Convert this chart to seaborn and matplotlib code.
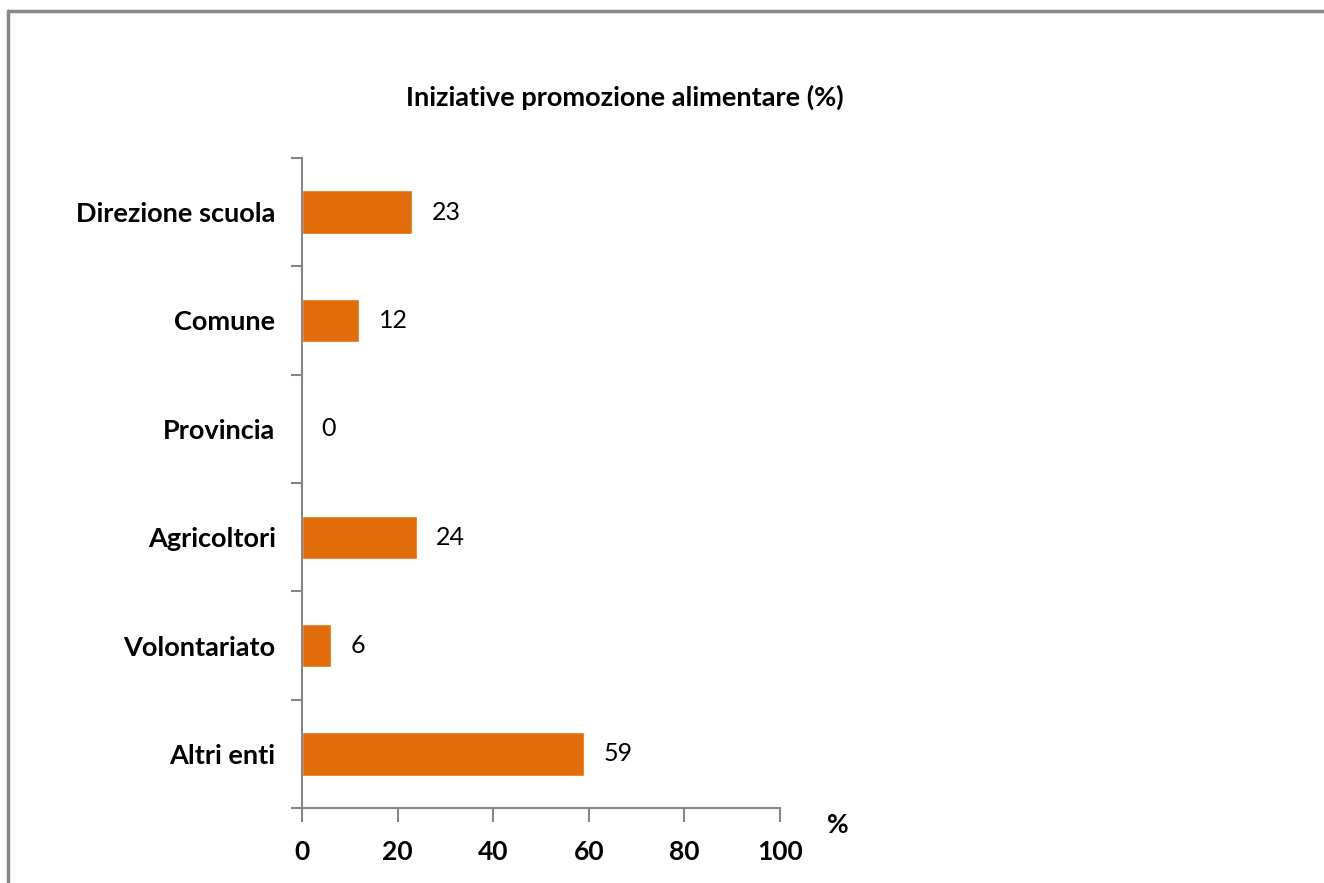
import matplotlib
matplotlib.use("Agg")
import matplotlib.pyplot as plt
from matplotlib.lines import Line2D
import seaborn as sns

categories = ["Direzione scuola", "Comune", "Provincia", "Agricoltori", "Volontariato", "Altri enti"]
values = [23, 12, 0, 24, 6, 59]
x_ticks = [0, 20, 40, 60, 80, 100]

sns.set_style("white")
plt.rcParams['font.family'] = ['Lato', 'DejaVu Sans']
plt.rcParams['text.color'] = 'black'
plt.rcParams['xtick.color'] = 'black'
plt.rcParams['ytick.color'] = 'black'

bar_color = "#E36C0A"
spine_color = "#868686"

fig = plt.figure(figsize=(13.24, 8.83), dpi=100)
ax = fig.add_axes([0.2281, 0.0849, 0.3610, 0.7362])

sns.barplot(x=values, y=categories, color=bar_color, width=0.4,
            saturation=1, orient="h", ax=ax)

# value labels
for cont in ax.containers:
    ax.bar_label(cont, padding=14, fontsize=18, color="black")

ax.set_xlim(0, 100)
ax.set_ylim(len(categories) - 0.5, -0.5)
ax.set_xticks(x_ticks)
ax.set_xticklabels([str(t) for t in x_ticks], fontsize=19, fontweight="bold")
ax.set_yticks(range(len(categories)))
ax.set_yticklabels(categories, fontsize=19.5, fontweight="bold")
ax.set_yticks([i - 0.5 for i in range(len(categories) + 1)], minor=True)
ax.tick_params(axis="y", which="major", length=0, pad=19, labelcolor="black")
ax.tick_params(axis="y", which="minor", length=8, width=1.5, color=spine_color, direction="out", left=True)
ax.tick_params(axis="x", length=10, width=1.5, color=spine_color, direction="out", pad=13,
               bottom=True, labelcolor="black")

for side in ["top", "right"]:
    ax.spines[side].set_visible(False)
for side in ["left", "bottom"]:
    ax.spines[side].set_color(spine_color)
    ax.spines[side].set_linewidth(1.5)
ax.set_xlabel("")
ax.set_ylabel("")

fig.text(625 / 1324, 1 - 97 / 883, "Iniziative promozione alimentare (%)",
         ha="center", va="center", fontsize=19.5, fontweight="bold")
fig.text(838 / 1324, 1 - 825 / 883, "%", ha="center", va="center",
         fontsize=19, fontweight="bold")

# outer chart frame (top and left edges)
fig.add_artist(Line2D([8 / 1324, 8 / 1324], [0, 1 - 11 / 883],
                      transform=fig.transFigure, color="#878787", lw=2.5))
fig.add_artist(Line2D([8 / 1324, 1], [1 - 11 / 883, 1 - 11 / 883],
                      transform=fig.transFigure, color="#878787", lw=2.5))

fig.savefig("out.png", dpi=100)
